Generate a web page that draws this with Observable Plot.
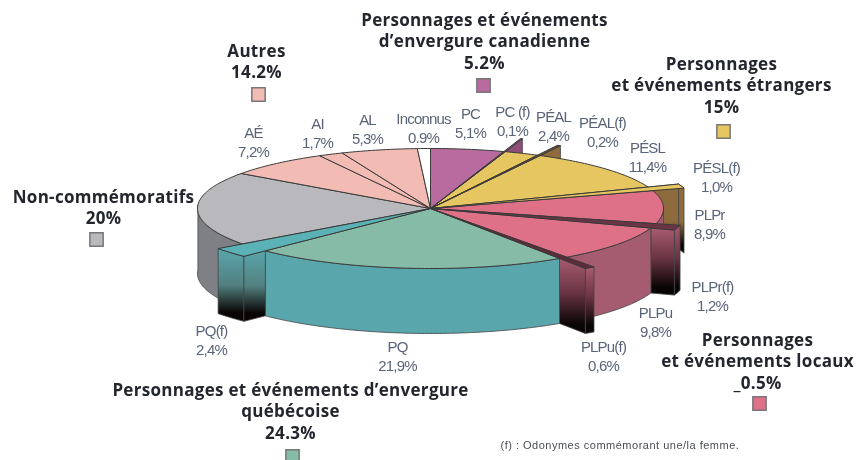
<!DOCTYPE html>
<html lang="fr">
<head>
<meta charset="utf-8">
<script src="https://cdn.jsdelivr.net/npm/d3@7"></script>
<script src="https://cdn.jsdelivr.net/npm/@observablehq/plot@0.6"></script>
<style>
  html, body { margin: 0; background: #fff; }
  svg { display: block; filter: blur(0.7px); }
  .small-label text { letter-spacing: -0.8px; }
  .group-label text { letter-spacing: 0.3px; }
  .note text { letter-spacing: 0.5px; }
</style>
</head>
<body>
<div id="chart"></div>
<script>
// ---- values (clockwise from the top of the pie)
const sliceNames  = ["PC","PC (f)","PÉAL","PÉAL(f)","PÉSL","PÉSL(f)","PLPr","PLPr(f)","PLPu","PLPu(f)","PQ","PQ(f)","NC","AÉ","AI","AL","Inconnus"];
const sliceValues = [5.1,0.1,2.4,0.2,11.4,1.0,8.9,1.2,9.8,0.6,21.9,2.4,20,7.2,1.7,5.3,0.9];
const valueLabels = ["5,1%","0,1%","2,4%","0,2%","11,4%","1,0%","8,9%","1,2%","9,8%","0,6%","21,9%","2,4%",null,"7,2%","1,7%","5,3%","0.9%"];

const groupNames = [
  "Autres",
  "Personnages et événements\nd’envergure canadienne",
  "Personnages\net événements étrangers",
  "Non-commémoratifs",
  "Personnages\net événements locaux",
  "Personnages et événements d’envergure\nquébécoise"
];
const groupValues = ["14.2%","5.2%","15%","20%","_0.5%","24.3%"];
const footnote = "(f) : Odonymes commémorant une/la femme.";

// ---- styling and layout, kept apart from the values
const sliceColors = ["#b96a9f","#8a4a70","#e5c660","#6e5430","#e5c660","#e5c660","#de7087","#6b3444","#de7087","#5c2c3a","#86bca7","#5ab2b6","#b9b9bd","#f2bcb4","#f2bcb4","#f2bcb4","#ffffff"];
const sliceReach  = [1,1.23,1,1.186,1,1.14,1,1.107,1,1.2,1,1.13,1,1,1,1,1];
const groupColors = ["#f2bcb4","#b96a9f","#e5c660","#b9b9bd","#de7087","#86bca7"];
const labelX = [470,512,553,602,647,716,709,712,655,603,397,211,null,253,317,367,423];
const labelY = [122,120,125,131,156,176,223,295,321,355,355,339,null,141,132,128,127];
const groupX = [256,484,721,103,757,290];
const groupY = [60,40,84,206,360,410];
const squareX = [258,483,723,96,759,292];
const squareY = [94,85,131,239,403,456];

const cx = 430, cy = 208, rx = 233, ry = 60, depth = 65;

// ---- pie geometry, derived from the values
const total = d3.sum(sliceValues);
const cum = d3.cumsum(sliceValues);
const slices = sliceNames.map((name, i) => ({
  name, i,
  a0: (i ? cum[i - 1] : 0) / total * 2 * Math.PI,
  a1: cum[i] / total * 2 * Math.PI,
  reach: sliceReach[i],
  color: sliceColors[i]
}));
const bySlice = Object.fromEntries(slices.map(s => [s.name, s]));
const pt = (a, r = 1, z = 0) => ({x: cx + rx * r * Math.sin(a), y: cy - ry * r * Math.cos(a) + z});
const arc = (a0, a1, r = 1, z = 0) => {
  const n = Math.max(2, Math.ceil(Math.abs(a1 - a0) * 60));
  return d3.range(n + 1).map(k => pt(a0 + (a1 - a0) * k / n, r, z));
};
const wedge = s => { const c = pt(0, 0); return [c, ...arc(s.a0, s.a1, s.reach), c]; };
const band = (a0, a1, r = 1) => { const t = arc(a0, a1, r); return [...t, ...arc(a1, a0, r, depth), t[0]]; };
const radial = (a, r) => { const p = pt(a), q = pt(a, r); return [p, q, {x: q.x, y: q.y + depth}, {x: p.x, y: p.y + depth}, p]; };

const face = (points, fill, stroke = "#444", strokeWidth = 0.8) =>
  Plot.line(points, {x: "x", y: "y", fill, stroke, strokeWidth, strokeLinejoin: "round"});

const defs = () => d3.create("svg:g").html(`<defs>
  ${[["fadeBrown","#8d6b3d","#8d6b3d",0.55],["fadeMauve","#a65c70","#6b3444",0.45],["fadeTeal","#5aa6ad","#52807f",0.5],["fadePurple","#8d4f78","#8d4f78",0.6]]
    .map(([id, a, b, o]) => `<linearGradient id="${id}" x1="0" y1="0" x2="0" y2="1">
      <stop offset="0" stop-color="${a}"/><stop offset="${o}" stop-color="${b}"/>
      <stop offset="0.88" stop-color="#0a0505"/><stop offset="1" stop-color="#0a0505"/></linearGradient>`).join("")}
</defs>`).node();

const S = n => bySlice[n];
const mid = Math.PI / 2, threeQ = 1.5 * Math.PI;

// back blades, hidden by the tops except where they stick out
const backWalls = [
  face(radial(S("PC (f)").a1, S("PC (f)").reach), "url(#fadePurple)"),
  face(radial(S("PÉAL(f)").a1, S("PÉAL(f)").reach), "url(#fadeBrown)"),
  face(band(S("PÉSL(f)").a0, S("PÉSL(f)").a1, S("PÉSL(f)").reach), "url(#fadeBrown)"),
  face(radial(S("PÉSL(f)").a0, S("PÉSL(f)").reach), "url(#fadeBrown)")
];
// front sides, far ones first
const sides = [
  face(band(S("PQ(f)").a1, threeQ + 0.06), "#7f8085"),
  face(band(mid, S("PLPr").a1), "#a65c70"),
  face(band(S("PLPr(f)").a0, S("PLPr(f)").a1, S("PLPr(f)").reach), "url(#fadeMauve)"),
  face(radial(S("PLPr(f)").a1, S("PLPr(f)").reach), "url(#fadeMauve)"),
  face(band(S("PLPu").a0, S("PLPu").a1), "#a65c70"),
  face(band(S("PLPu(f)").a0, S("PLPu(f)").a1, S("PLPu(f)").reach), "url(#fadeMauve)"),
  face(radial(S("PLPu(f)").a1, S("PLPu(f)").reach), "url(#fadeMauve)"),
  face(band(S("PQ").a0, S("PQ").a1), "#5aa6ad"),
  face(band(S("PQ(f)").a0, S("PQ(f)").a1, S("PQ(f)").reach), "url(#fadeTeal)"),
  face(radial(S("PQ(f)").a0, S("PQ(f)").reach), "url(#fadeTeal)")
];
const tops = [...slices.filter(s => s.reach === 1), ...slices.filter(s => s.reach !== 1)]
  .map(s => face(wedge(s), s.color, "#3a3a3a", 1));

const smallLabels = slices.map((s, i) => ({
  text: `${s.name}\n${valueLabels[i]}`, x: labelX[i], y: labelY[i]
})).filter(d => d.x != null);
const groups = groupNames.map((name, i) => ({
  text: `${name}\n${groupValues[i]}`, x: groupX[i], y: groupY[i],
  sx: squareX[i], sy: squareY[i], color: groupColors[i]
}));

const chart = Plot.plot({
  width: 856, height: 460,
  marginTop: 0, marginRight: 0, marginBottom: 0, marginLeft: 0,
  x: {domain: [0, 856], range: [0, 856], axis: null},
  y: {domain: [0, 460], range: [0, 460], axis: null},
  style: {background: "#fff"},
  marks: [
    defs,
    ...backWalls,
    ...sides,
    ...tops,
    Plot.text(smallLabels, {
      x: "x", y: "y", text: "text", fontFamily: "Liberation Sans", className: "small-label",
      fontSize: 15, lineHeight: 1.27, fill: "#5a6478", textAnchor: "middle"
    }),
    Plot.text(groups, {
      x: "x", y: "y", text: "text", fontFamily: "Open Sans", fontWeight: 700, className: "group-label",
      fontSize: 17, lineHeight: 1.25, fill: "#23262e", textAnchor: "middle"
    }),
    Plot.dot(groups, {
      x: "sx", y: "sy", symbol: "square", r: 7.5, fill: "color",
      stroke: "#777", strokeWidth: 1.5
    }),
    Plot.text([footnote], {
      x: () => 500, y: () => 445, text: d => d, fontFamily: "Liberation Sans", className: "note",
      fontSize: 11, fill: "#4a4d55", textAnchor: "start"
    })
  ]
});
document.getElementById("chart").append(chart);
</script>
</body>
</html>
